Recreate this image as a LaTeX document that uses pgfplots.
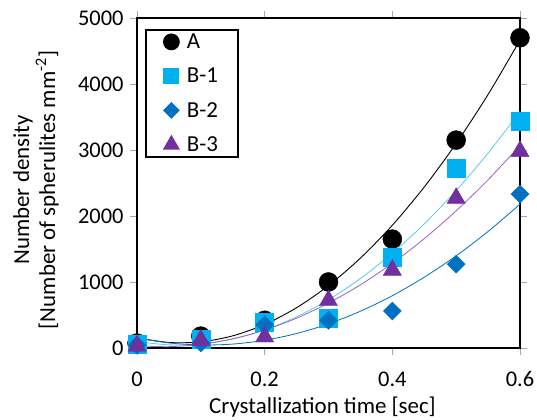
\documentclass[border=0pt]{standalone}
\usepackage{pgfplots}
\pgfplotsset{compat=1.18}
\usepackage{fontspec}
\setmainfont{Carlito}
\definecolor{cB1}{RGB}{0,176,240}
\definecolor{cB2}{RGB}{0,112,192}
\definecolor{cB3}{RGB}{112,48,160}
\definecolor{tB1}{RGB}{90,200,245}
\definecolor{tB3}{RGB}{150,100,190}
\begin{document}
\begin{tikzpicture}
\begin{axis}[
  name=ax, scale only axis, width=383bp, height=330bp,
  xmin=0, xmax=0.6, ymin=0, ymax=5000,
  xtick={0,0.2,0.4,0.6}, xticklabels={0,0.2,0.4,0.6},
  ytick={0,1000,2000,3000,4000,5000},
  yticklabels={0,1000,2000,3000,4000,5000},
  /pgf/number format/assume math mode=true,
  tick align=outside, major tick length=7bp,
  tick style={gray!70, line width=0.6bp},
  axis line style={line width=1.6bp},
  tick label style={font=\fontsize{22.5}{26}\selectfont},
  xticklabel style={anchor=center, yshift=-24bp},
  yticklabel style={anchor=east, xshift=-3bp},
  label style={font=\fontsize{23}{26}\selectfont},
  xlabel={Crystallization time [sec]},
  xlabel style={at={(axis description cs:0.5,0)}, anchor=center, yshift=-59bp, xshift=-6bp},
  ylabel={Number density\\{}{[Number of spherulites mm\textsuperscript{-2}]}},
  ylabel style={at={([xshift=-101bp,yshift=-7bp]axis description cs:0,0.5)}, anchor=center, align=center},
  legend style={at={(axis description cs:0,1)}, anchor=north west, xshift=8bp, yshift=-11bp,
     draw=black, line width=1.6bp, font=\fontsize{23}{27}\selectfont, row sep=14bp,
     inner xsep=18bp, inner ysep=2bp,
     /tikz/every odd column/.append style={column sep=6bp}},
  legend image post style={scale=0.8},
  legend cell align=left,
  clip=false,
]
% trend lines (quadratic fits)
\addplot[black, line width=0.9bp, smooth, forget plot] coordinates {
(0,155.0)(0.05,83.5)(0.1,93.2)(0.15,184.3)(0.2,356.8)(0.25,610.6)(0.3,945.7)(0.35,1362.2)(0.4,1860.0)(0.45,2439.1)(0.5,3099.6)(0.55,3841.5)(0.6,4664.6)};
\addplot[tB1, line width=0.8bp, smooth, forget plot] coordinates {
(0,95.9)(0.05,47.9)(0.1,61.5)(0.15,136.6)(0.2,273.2)(0.25,471.5)(0.3,731.2)(0.35,1052.5)(0.4,1435.4)(0.45,1879.8)(0.5,2385.7)(0.55,2953.3)(0.6,3582.3)};
\addplot[cB2, line width=0.8bp, smooth, forget plot] coordinates {
(0,152.6)(0.05,77.0)(0.1,46.0)(0.15,59.3)(0.2,117.1)(0.25,219.2)(0.3,365.9)(0.35,557.0)(0.4,792.5)(0.45,1072.5)(0.5,1396.8)(0.55,1765.6)(0.6,2178.8)};
\addplot[tB3, line width=0.8bp, smooth, forget plot] coordinates {
(0,33.4)(0.05,20.4)(0.1,55.8)(0.15,139.4)(0.2,271.5)(0.25,451.8)(0.3,680.5)(0.35,957.6)(0.4,1282.9)(0.45,1656.6)(0.5,2078.6)(0.55,2549.0)(0.6,3067.6)};
% data
\addplot[only marks, mark=*, mark size=9.5bp, mark options={fill=black, draw=black}] coordinates {
(0,75)(0.1,180)(0.2,420)(0.3,1000)(0.4,1650)(0.5,3150)(0.6,4700)};
\addlegendentry{A}
\addplot[only marks, mark=square*, mark size=9bp, mark options={fill=cB1, draw=cB1}] coordinates {
(0,60)(0.1,135)(0.2,390)(0.3,450)(0.4,1380)(0.5,2720)(0.6,3430)};
\addlegendentry{B-1}
\addplot[only marks, mark=diamond*, mark size=9bp, mark options={fill=cB2, draw=cB2, xscale=1.33}] coordinates {
(0,45)(0.1,75)(0.2,350)(0.3,420)(0.4,560)(0.5,1270)(0.6,2330)};
\addlegendentry{B-2}
\addplot[only marks, mark=triangle*, mark size=10.5bp, mark options={fill=cB3, draw=cB3}] coordinates {
(0,30)(0.1,120)(0.2,170)(0.3,720)(0.4,1180)(0.5,2270)(0.6,2980)};
\addlegendentry{B-3}
\end{axis}
\pgfresetboundingbox
\path[use as bounding box] ([xshift=-137bp,yshift=-72bp]ax.south west) rectangle ([xshift=17bp,yshift=18bp]ax.north east);
\end{tikzpicture}
\end{document}
